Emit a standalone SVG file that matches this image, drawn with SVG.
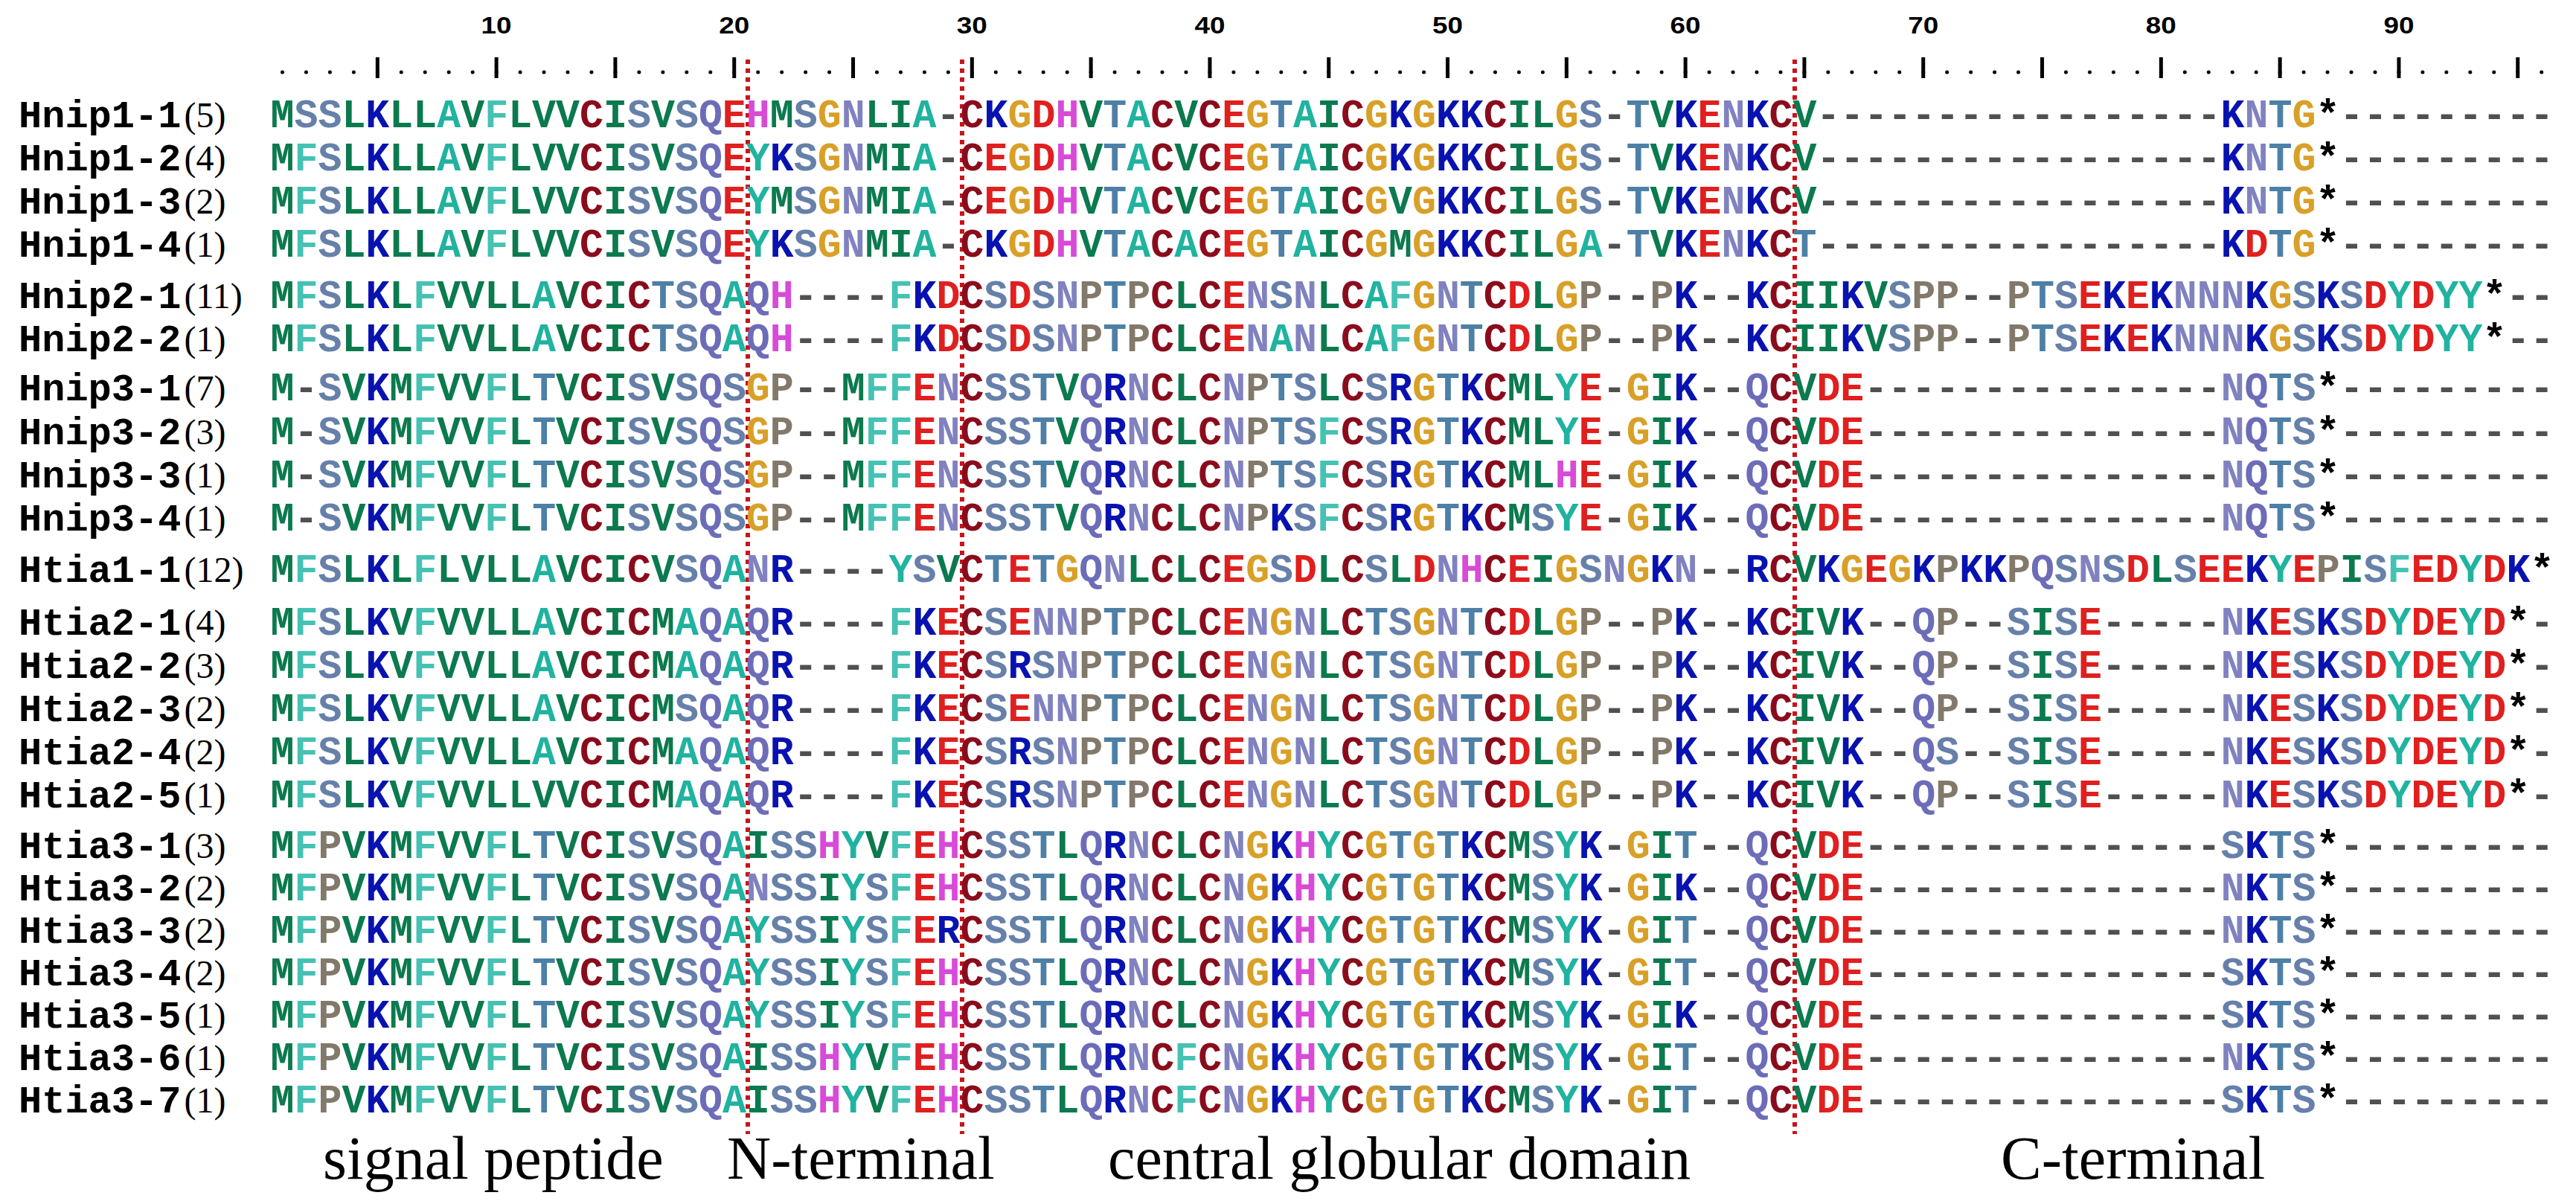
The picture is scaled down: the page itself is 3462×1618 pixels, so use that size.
<svg xmlns="http://www.w3.org/2000/svg" width="3462" height="1618" viewBox="0 0 3462 1618">
<style>
.seq{font-family:"Liberation Mono","Courier New",monospace;font-weight:bold;font-size:53.26px}
.lab{font-family:"Liberation Mono","Courier New",monospace;font-weight:bold;font-size:52px;fill:#000}
.cnt{font-family:"Liberation Serif","Times New Roman",serif;font-weight:normal;font-size:48px}
.num{font-family:"Liberation Sans",Arial,sans-serif;font-weight:bold;font-size:31px;fill:#000;text-anchor:middle}
.reg{font-family:"Liberation Serif","Times New Roman",serif;font-size:82px;fill:#000}
.bound{stroke:#c8141a;stroke-width:6;stroke-dasharray:6 6;fill:none}
.g{fill:#0b7a4e}.a{fill:#1fb3a0}.f{fill:#45c2b4}.b{fill:#0812b0}.c{fill:#8a0c1c}.r{fill:#e01f1f}.o{fill:#d9a028}.h{fill:#d84ad8}.s{fill:#6680aa}.t{fill:#4d80a6}.n{fill:#8082c0}.q{fill:#6c6cb8}.p{fill:#82796b}.d{fill:#505050}.k{fill:#000}
</style>
<rect width="3462" height="1618" fill="#fff"/>
<g id="ruler">
<line x1="379.5" y1="97" x2="3416" y2="97" stroke="#000" stroke-width="5" stroke-linecap="round" stroke-dasharray="0 31.96"/>
<path d="M507.34 77v28M667.14 77v28M826.94 77v28M986.74 77v28M1146.54 77v28M1306.34 77v28M1466.14 77v28M1625.94 77v28M1785.74 77v28M1945.54 77v28M2105.34 77v28M2265.14 77v28M2424.94 77v28M2584.74 77v28M2744.54 77v28M2904.34 77v28M3064.14 77v28M3223.94 77v28M3383.74 77v28" stroke="#000" stroke-width="5" fill="none"/>
<text class="num" x="667.14" y="45" textLength="41" lengthAdjust="spacingAndGlyphs">10</text>
<text class="num" x="986.74" y="45" textLength="41" lengthAdjust="spacingAndGlyphs">20</text>
<text class="num" x="1306.34" y="45" textLength="41" lengthAdjust="spacingAndGlyphs">30</text>
<text class="num" x="1625.94" y="45" textLength="41" lengthAdjust="spacingAndGlyphs">40</text>
<text class="num" x="1945.54" y="45" textLength="41" lengthAdjust="spacingAndGlyphs">50</text>
<text class="num" x="2265.14" y="45" textLength="41" lengthAdjust="spacingAndGlyphs">60</text>
<text class="num" x="2584.74" y="45" textLength="41" lengthAdjust="spacingAndGlyphs">70</text>
<text class="num" x="2904.34" y="45" textLength="41" lengthAdjust="spacingAndGlyphs">80</text>
<text class="num" x="3223.94" y="45" textLength="41" lengthAdjust="spacingAndGlyphs">90</text>
</g>
<g id="boundaries">
<line class="bound" x1="1005" y1="80" x2="1005" y2="1524"/>
<line class="bound" x1="1293" y1="80" x2="1293" y2="1524"/>
<line class="bound" x1="2412" y1="80" x2="2412" y2="1524"/>
</g>
<g id="Hnip1-1"><text class="lab" x="25" y="171">Hnip1-1<tspan class="cnt" dx="4">(5)</tspan></text>
<text class="seq" x="363.5" y="171"><tspan class="g">M</tspan><tspan class="s">SS</tspan><tspan class="g">L</tspan><tspan class="b">K</tspan><tspan class="g">LL</tspan><tspan class="a">A</tspan><tspan class="g">V</tspan><tspan class="f">F</tspan><tspan class="g">LVV</tspan><tspan class="c">C</tspan><tspan class="g">I</tspan><tspan class="s">S</tspan><tspan class="g">V</tspan><tspan class="s">S</tspan><tspan class="q">Q</tspan><tspan class="r">E</tspan><tspan class="h">H</tspan><tspan class="g">M</tspan><tspan class="s">S</tspan><tspan class="o">G</tspan><tspan class="n">N</tspan><tspan class="g">LI</tspan><tspan class="a">A</tspan><tspan class="d">-</tspan><tspan class="c">C</tspan><tspan class="b">K</tspan><tspan class="o">G</tspan><tspan class="r">D</tspan><tspan class="h">H</tspan><tspan class="g">V</tspan><tspan class="t">T</tspan><tspan class="a">A</tspan><tspan class="c">C</tspan><tspan class="g">V</tspan><tspan class="c">C</tspan><tspan class="r">E</tspan><tspan class="o">G</tspan><tspan class="t">T</tspan><tspan class="a">A</tspan><tspan class="g">I</tspan><tspan class="c">C</tspan><tspan class="o">G</tspan><tspan class="b">K</tspan><tspan class="o">G</tspan><tspan class="b">KK</tspan><tspan class="c">C</tspan><tspan class="g">IL</tspan><tspan class="o">G</tspan><tspan class="s">S</tspan><tspan class="d">-</tspan><tspan class="t">T</tspan><tspan class="g">V</tspan><tspan class="b">K</tspan><tspan class="r">E</tspan><tspan class="n">N</tspan><tspan class="b">K</tspan><tspan class="c">C</tspan><tspan class="g">V</tspan><tspan class="d">-----------------</tspan><tspan class="b">K</tspan><tspan class="n">N</tspan><tspan class="t">T</tspan><tspan class="o">G</tspan><tspan class="k">*</tspan><tspan class="d">---------</tspan></text></g>
<g id="Hnip1-2"><text class="lab" x="25" y="229">Hnip1-2<tspan class="cnt" dx="4">(4)</tspan></text>
<text class="seq" x="363.5" y="229"><tspan class="g">M</tspan><tspan class="f">F</tspan><tspan class="s">S</tspan><tspan class="g">L</tspan><tspan class="b">K</tspan><tspan class="g">LL</tspan><tspan class="a">A</tspan><tspan class="g">V</tspan><tspan class="f">F</tspan><tspan class="g">LVV</tspan><tspan class="c">C</tspan><tspan class="g">I</tspan><tspan class="s">S</tspan><tspan class="g">V</tspan><tspan class="s">S</tspan><tspan class="q">Q</tspan><tspan class="r">E</tspan><tspan class="a">Y</tspan><tspan class="b">K</tspan><tspan class="s">S</tspan><tspan class="o">G</tspan><tspan class="n">N</tspan><tspan class="g">MI</tspan><tspan class="a">A</tspan><tspan class="d">-</tspan><tspan class="c">C</tspan><tspan class="r">E</tspan><tspan class="o">G</tspan><tspan class="r">D</tspan><tspan class="h">H</tspan><tspan class="g">V</tspan><tspan class="t">T</tspan><tspan class="a">A</tspan><tspan class="c">C</tspan><tspan class="g">V</tspan><tspan class="c">C</tspan><tspan class="r">E</tspan><tspan class="o">G</tspan><tspan class="t">T</tspan><tspan class="a">A</tspan><tspan class="g">I</tspan><tspan class="c">C</tspan><tspan class="o">G</tspan><tspan class="b">K</tspan><tspan class="o">G</tspan><tspan class="b">KK</tspan><tspan class="c">C</tspan><tspan class="g">IL</tspan><tspan class="o">G</tspan><tspan class="s">S</tspan><tspan class="d">-</tspan><tspan class="t">T</tspan><tspan class="g">V</tspan><tspan class="b">K</tspan><tspan class="r">E</tspan><tspan class="n">N</tspan><tspan class="b">K</tspan><tspan class="c">C</tspan><tspan class="g">V</tspan><tspan class="d">-----------------</tspan><tspan class="b">K</tspan><tspan class="n">N</tspan><tspan class="t">T</tspan><tspan class="o">G</tspan><tspan class="k">*</tspan><tspan class="d">---------</tspan></text></g>
<g id="Hnip1-3"><text class="lab" x="25" y="287">Hnip1-3<tspan class="cnt" dx="4">(2)</tspan></text>
<text class="seq" x="363.5" y="287"><tspan class="g">M</tspan><tspan class="f">F</tspan><tspan class="s">S</tspan><tspan class="g">L</tspan><tspan class="b">K</tspan><tspan class="g">LL</tspan><tspan class="a">A</tspan><tspan class="g">V</tspan><tspan class="f">F</tspan><tspan class="g">LVV</tspan><tspan class="c">C</tspan><tspan class="g">I</tspan><tspan class="s">S</tspan><tspan class="g">V</tspan><tspan class="s">S</tspan><tspan class="q">Q</tspan><tspan class="r">E</tspan><tspan class="a">Y</tspan><tspan class="g">M</tspan><tspan class="s">S</tspan><tspan class="o">G</tspan><tspan class="n">N</tspan><tspan class="g">MI</tspan><tspan class="a">A</tspan><tspan class="d">-</tspan><tspan class="c">C</tspan><tspan class="r">E</tspan><tspan class="o">G</tspan><tspan class="r">D</tspan><tspan class="h">H</tspan><tspan class="g">V</tspan><tspan class="t">T</tspan><tspan class="a">A</tspan><tspan class="c">C</tspan><tspan class="g">V</tspan><tspan class="c">C</tspan><tspan class="r">E</tspan><tspan class="o">G</tspan><tspan class="t">T</tspan><tspan class="a">A</tspan><tspan class="g">I</tspan><tspan class="c">C</tspan><tspan class="o">G</tspan><tspan class="g">V</tspan><tspan class="o">G</tspan><tspan class="b">KK</tspan><tspan class="c">C</tspan><tspan class="g">IL</tspan><tspan class="o">G</tspan><tspan class="s">S</tspan><tspan class="d">-</tspan><tspan class="t">T</tspan><tspan class="g">V</tspan><tspan class="b">K</tspan><tspan class="r">E</tspan><tspan class="n">N</tspan><tspan class="b">K</tspan><tspan class="c">C</tspan><tspan class="g">V</tspan><tspan class="d">-----------------</tspan><tspan class="b">K</tspan><tspan class="n">N</tspan><tspan class="t">T</tspan><tspan class="o">G</tspan><tspan class="k">*</tspan><tspan class="d">---------</tspan></text></g>
<g id="Hnip1-4"><text class="lab" x="25" y="345">Hnip1-4<tspan class="cnt" dx="4">(1)</tspan></text>
<text class="seq" x="363.5" y="345"><tspan class="g">M</tspan><tspan class="f">F</tspan><tspan class="s">S</tspan><tspan class="g">L</tspan><tspan class="b">K</tspan><tspan class="g">LL</tspan><tspan class="a">A</tspan><tspan class="g">V</tspan><tspan class="f">F</tspan><tspan class="g">LVV</tspan><tspan class="c">C</tspan><tspan class="g">I</tspan><tspan class="s">S</tspan><tspan class="g">V</tspan><tspan class="s">S</tspan><tspan class="q">Q</tspan><tspan class="r">E</tspan><tspan class="a">Y</tspan><tspan class="b">K</tspan><tspan class="s">S</tspan><tspan class="o">G</tspan><tspan class="n">N</tspan><tspan class="g">MI</tspan><tspan class="a">A</tspan><tspan class="d">-</tspan><tspan class="c">C</tspan><tspan class="b">K</tspan><tspan class="o">G</tspan><tspan class="r">D</tspan><tspan class="h">H</tspan><tspan class="g">V</tspan><tspan class="t">T</tspan><tspan class="a">A</tspan><tspan class="c">C</tspan><tspan class="a">A</tspan><tspan class="c">C</tspan><tspan class="r">E</tspan><tspan class="o">G</tspan><tspan class="t">T</tspan><tspan class="a">A</tspan><tspan class="g">I</tspan><tspan class="c">C</tspan><tspan class="o">G</tspan><tspan class="g">M</tspan><tspan class="o">G</tspan><tspan class="b">KK</tspan><tspan class="c">C</tspan><tspan class="g">IL</tspan><tspan class="o">G</tspan><tspan class="a">A</tspan><tspan class="d">-</tspan><tspan class="t">T</tspan><tspan class="g">V</tspan><tspan class="b">K</tspan><tspan class="r">E</tspan><tspan class="n">N</tspan><tspan class="b">K</tspan><tspan class="c">C</tspan><tspan class="t">T</tspan><tspan class="d">-----------------</tspan><tspan class="b">K</tspan><tspan class="r">D</tspan><tspan class="t">T</tspan><tspan class="o">G</tspan><tspan class="k">*</tspan><tspan class="d">---------</tspan></text></g>
<g id="Hnip2-1"><text class="lab" x="25" y="414">Hnip2-1<tspan class="cnt" dx="4">(11)</tspan></text>
<text class="seq" x="363.5" y="414"><tspan class="g">M</tspan><tspan class="f">F</tspan><tspan class="s">S</tspan><tspan class="g">L</tspan><tspan class="b">K</tspan><tspan class="g">L</tspan><tspan class="f">F</tspan><tspan class="g">VVLL</tspan><tspan class="a">A</tspan><tspan class="g">V</tspan><tspan class="c">C</tspan><tspan class="g">I</tspan><tspan class="c">C</tspan><tspan class="t">T</tspan><tspan class="s">S</tspan><tspan class="q">Q</tspan><tspan class="a">A</tspan><tspan class="q">Q</tspan><tspan class="h">H</tspan><tspan class="d">----</tspan><tspan class="f">F</tspan><tspan class="b">K</tspan><tspan class="r">D</tspan><tspan class="c">C</tspan><tspan class="s">S</tspan><tspan class="r">D</tspan><tspan class="s">S</tspan><tspan class="n">N</tspan><tspan class="p">P</tspan><tspan class="t">T</tspan><tspan class="p">P</tspan><tspan class="c">C</tspan><tspan class="g">L</tspan><tspan class="c">C</tspan><tspan class="r">E</tspan><tspan class="n">N</tspan><tspan class="s">S</tspan><tspan class="n">N</tspan><tspan class="g">L</tspan><tspan class="c">C</tspan><tspan class="a">A</tspan><tspan class="f">F</tspan><tspan class="o">G</tspan><tspan class="n">N</tspan><tspan class="t">T</tspan><tspan class="c">C</tspan><tspan class="r">D</tspan><tspan class="g">L</tspan><tspan class="o">G</tspan><tspan class="p">P</tspan><tspan class="d">--</tspan><tspan class="p">P</tspan><tspan class="b">K</tspan><tspan class="d">--</tspan><tspan class="b">K</tspan><tspan class="c">C</tspan><tspan class="g">II</tspan><tspan class="b">K</tspan><tspan class="g">V</tspan><tspan class="s">S</tspan><tspan class="p">PP</tspan><tspan class="d">--</tspan><tspan class="p">P</tspan><tspan class="t">T</tspan><tspan class="s">S</tspan><tspan class="r">E</tspan><tspan class="b">K</tspan><tspan class="r">E</tspan><tspan class="b">K</tspan><tspan class="n">NNN</tspan><tspan class="b">K</tspan><tspan class="o">G</tspan><tspan class="s">S</tspan><tspan class="b">K</tspan><tspan class="s">S</tspan><tspan class="r">D</tspan><tspan class="a">Y</tspan><tspan class="r">D</tspan><tspan class="a">YY</tspan><tspan class="k">*</tspan><tspan class="d">--</tspan></text></g>
<g id="Hnip2-2"><text class="lab" x="25" y="472">Hnip2-2<tspan class="cnt" dx="4">(1)</tspan></text>
<text class="seq" x="363.5" y="472"><tspan class="g">M</tspan><tspan class="f">F</tspan><tspan class="s">S</tspan><tspan class="g">L</tspan><tspan class="b">K</tspan><tspan class="g">L</tspan><tspan class="f">F</tspan><tspan class="g">VVLL</tspan><tspan class="a">A</tspan><tspan class="g">V</tspan><tspan class="c">C</tspan><tspan class="g">I</tspan><tspan class="c">C</tspan><tspan class="t">T</tspan><tspan class="s">S</tspan><tspan class="q">Q</tspan><tspan class="a">A</tspan><tspan class="q">Q</tspan><tspan class="h">H</tspan><tspan class="d">----</tspan><tspan class="f">F</tspan><tspan class="b">K</tspan><tspan class="r">D</tspan><tspan class="c">C</tspan><tspan class="s">S</tspan><tspan class="r">D</tspan><tspan class="s">S</tspan><tspan class="n">N</tspan><tspan class="p">P</tspan><tspan class="t">T</tspan><tspan class="p">P</tspan><tspan class="c">C</tspan><tspan class="g">L</tspan><tspan class="c">C</tspan><tspan class="r">E</tspan><tspan class="n">N</tspan><tspan class="a">A</tspan><tspan class="n">N</tspan><tspan class="g">L</tspan><tspan class="c">C</tspan><tspan class="a">A</tspan><tspan class="f">F</tspan><tspan class="o">G</tspan><tspan class="n">N</tspan><tspan class="t">T</tspan><tspan class="c">C</tspan><tspan class="r">D</tspan><tspan class="g">L</tspan><tspan class="o">G</tspan><tspan class="p">P</tspan><tspan class="d">--</tspan><tspan class="p">P</tspan><tspan class="b">K</tspan><tspan class="d">--</tspan><tspan class="b">K</tspan><tspan class="c">C</tspan><tspan class="g">II</tspan><tspan class="b">K</tspan><tspan class="g">V</tspan><tspan class="s">S</tspan><tspan class="p">PP</tspan><tspan class="d">--</tspan><tspan class="p">P</tspan><tspan class="t">T</tspan><tspan class="s">S</tspan><tspan class="r">E</tspan><tspan class="b">K</tspan><tspan class="r">E</tspan><tspan class="b">K</tspan><tspan class="n">NNN</tspan><tspan class="b">K</tspan><tspan class="o">G</tspan><tspan class="s">S</tspan><tspan class="b">K</tspan><tspan class="s">S</tspan><tspan class="r">D</tspan><tspan class="a">Y</tspan><tspan class="r">D</tspan><tspan class="a">YY</tspan><tspan class="k">*</tspan><tspan class="d">--</tspan></text></g>
<g id="Hnip3-1"><text class="lab" x="25" y="538">Hnip3-1<tspan class="cnt" dx="4">(7)</tspan></text>
<text class="seq" x="363.5" y="538"><tspan class="g">M</tspan><tspan class="d">-</tspan><tspan class="s">S</tspan><tspan class="g">V</tspan><tspan class="b">K</tspan><tspan class="g">M</tspan><tspan class="f">F</tspan><tspan class="g">VV</tspan><tspan class="f">F</tspan><tspan class="g">L</tspan><tspan class="t">T</tspan><tspan class="g">V</tspan><tspan class="c">C</tspan><tspan class="g">I</tspan><tspan class="s">S</tspan><tspan class="g">V</tspan><tspan class="s">S</tspan><tspan class="q">Q</tspan><tspan class="s">S</tspan><tspan class="o">G</tspan><tspan class="p">P</tspan><tspan class="d">--</tspan><tspan class="g">M</tspan><tspan class="f">FF</tspan><tspan class="r">E</tspan><tspan class="n">N</tspan><tspan class="c">C</tspan><tspan class="s">SS</tspan><tspan class="t">T</tspan><tspan class="g">V</tspan><tspan class="q">Q</tspan><tspan class="b">R</tspan><tspan class="n">N</tspan><tspan class="c">C</tspan><tspan class="g">L</tspan><tspan class="c">C</tspan><tspan class="n">N</tspan><tspan class="p">P</tspan><tspan class="t">T</tspan><tspan class="s">S</tspan><tspan class="g">L</tspan><tspan class="c">C</tspan><tspan class="s">S</tspan><tspan class="b">R</tspan><tspan class="o">G</tspan><tspan class="t">T</tspan><tspan class="b">K</tspan><tspan class="c">C</tspan><tspan class="g">ML</tspan><tspan class="a">Y</tspan><tspan class="r">E</tspan><tspan class="d">-</tspan><tspan class="o">G</tspan><tspan class="g">I</tspan><tspan class="b">K</tspan><tspan class="d">--</tspan><tspan class="q">Q</tspan><tspan class="c">C</tspan><tspan class="g">V</tspan><tspan class="r">DE</tspan><tspan class="d">---------------</tspan><tspan class="n">N</tspan><tspan class="q">Q</tspan><tspan class="t">T</tspan><tspan class="s">S</tspan><tspan class="k">*</tspan><tspan class="d">---------</tspan></text></g>
<g id="Hnip3-2"><text class="lab" x="25" y="597">Hnip3-2<tspan class="cnt" dx="4">(3)</tspan></text>
<text class="seq" x="363.5" y="597"><tspan class="g">M</tspan><tspan class="d">-</tspan><tspan class="s">S</tspan><tspan class="g">V</tspan><tspan class="b">K</tspan><tspan class="g">M</tspan><tspan class="f">F</tspan><tspan class="g">VV</tspan><tspan class="f">F</tspan><tspan class="g">L</tspan><tspan class="t">T</tspan><tspan class="g">V</tspan><tspan class="c">C</tspan><tspan class="g">I</tspan><tspan class="s">S</tspan><tspan class="g">V</tspan><tspan class="s">S</tspan><tspan class="q">Q</tspan><tspan class="s">S</tspan><tspan class="o">G</tspan><tspan class="p">P</tspan><tspan class="d">--</tspan><tspan class="g">M</tspan><tspan class="f">FF</tspan><tspan class="r">E</tspan><tspan class="n">N</tspan><tspan class="c">C</tspan><tspan class="s">SS</tspan><tspan class="t">T</tspan><tspan class="g">V</tspan><tspan class="q">Q</tspan><tspan class="b">R</tspan><tspan class="n">N</tspan><tspan class="c">C</tspan><tspan class="g">L</tspan><tspan class="c">C</tspan><tspan class="n">N</tspan><tspan class="p">P</tspan><tspan class="t">T</tspan><tspan class="s">S</tspan><tspan class="f">F</tspan><tspan class="c">C</tspan><tspan class="s">S</tspan><tspan class="b">R</tspan><tspan class="o">G</tspan><tspan class="t">T</tspan><tspan class="b">K</tspan><tspan class="c">C</tspan><tspan class="g">ML</tspan><tspan class="a">Y</tspan><tspan class="r">E</tspan><tspan class="d">-</tspan><tspan class="o">G</tspan><tspan class="g">I</tspan><tspan class="b">K</tspan><tspan class="d">--</tspan><tspan class="q">Q</tspan><tspan class="c">C</tspan><tspan class="g">V</tspan><tspan class="r">DE</tspan><tspan class="d">---------------</tspan><tspan class="n">N</tspan><tspan class="q">Q</tspan><tspan class="t">T</tspan><tspan class="s">S</tspan><tspan class="k">*</tspan><tspan class="d">---------</tspan></text></g>
<g id="Hnip3-3"><text class="lab" x="25" y="655">Hnip3-3<tspan class="cnt" dx="4">(1)</tspan></text>
<text class="seq" x="363.5" y="655"><tspan class="g">M</tspan><tspan class="d">-</tspan><tspan class="s">S</tspan><tspan class="g">V</tspan><tspan class="b">K</tspan><tspan class="g">M</tspan><tspan class="f">F</tspan><tspan class="g">VV</tspan><tspan class="f">F</tspan><tspan class="g">L</tspan><tspan class="t">T</tspan><tspan class="g">V</tspan><tspan class="c">C</tspan><tspan class="g">I</tspan><tspan class="s">S</tspan><tspan class="g">V</tspan><tspan class="s">S</tspan><tspan class="q">Q</tspan><tspan class="s">S</tspan><tspan class="o">G</tspan><tspan class="p">P</tspan><tspan class="d">--</tspan><tspan class="g">M</tspan><tspan class="f">FF</tspan><tspan class="r">E</tspan><tspan class="n">N</tspan><tspan class="c">C</tspan><tspan class="s">SS</tspan><tspan class="t">T</tspan><tspan class="g">V</tspan><tspan class="q">Q</tspan><tspan class="b">R</tspan><tspan class="n">N</tspan><tspan class="c">C</tspan><tspan class="g">L</tspan><tspan class="c">C</tspan><tspan class="n">N</tspan><tspan class="p">P</tspan><tspan class="t">T</tspan><tspan class="s">S</tspan><tspan class="f">F</tspan><tspan class="c">C</tspan><tspan class="s">S</tspan><tspan class="b">R</tspan><tspan class="o">G</tspan><tspan class="t">T</tspan><tspan class="b">K</tspan><tspan class="c">C</tspan><tspan class="g">ML</tspan><tspan class="h">H</tspan><tspan class="r">E</tspan><tspan class="d">-</tspan><tspan class="o">G</tspan><tspan class="g">I</tspan><tspan class="b">K</tspan><tspan class="d">--</tspan><tspan class="q">Q</tspan><tspan class="c">C</tspan><tspan class="g">V</tspan><tspan class="r">DE</tspan><tspan class="d">---------------</tspan><tspan class="n">N</tspan><tspan class="q">Q</tspan><tspan class="t">T</tspan><tspan class="s">S</tspan><tspan class="k">*</tspan><tspan class="d">---------</tspan></text></g>
<g id="Hnip3-4"><text class="lab" x="25" y="713">Hnip3-4<tspan class="cnt" dx="4">(1)</tspan></text>
<text class="seq" x="363.5" y="713"><tspan class="g">M</tspan><tspan class="d">-</tspan><tspan class="s">S</tspan><tspan class="g">V</tspan><tspan class="b">K</tspan><tspan class="g">M</tspan><tspan class="f">F</tspan><tspan class="g">VV</tspan><tspan class="f">F</tspan><tspan class="g">L</tspan><tspan class="t">T</tspan><tspan class="g">V</tspan><tspan class="c">C</tspan><tspan class="g">I</tspan><tspan class="s">S</tspan><tspan class="g">V</tspan><tspan class="s">S</tspan><tspan class="q">Q</tspan><tspan class="s">S</tspan><tspan class="o">G</tspan><tspan class="p">P</tspan><tspan class="d">--</tspan><tspan class="g">M</tspan><tspan class="f">FF</tspan><tspan class="r">E</tspan><tspan class="n">N</tspan><tspan class="c">C</tspan><tspan class="s">SS</tspan><tspan class="t">T</tspan><tspan class="g">V</tspan><tspan class="q">Q</tspan><tspan class="b">R</tspan><tspan class="n">N</tspan><tspan class="c">C</tspan><tspan class="g">L</tspan><tspan class="c">C</tspan><tspan class="n">N</tspan><tspan class="p">P</tspan><tspan class="b">K</tspan><tspan class="s">S</tspan><tspan class="f">F</tspan><tspan class="c">C</tspan><tspan class="s">S</tspan><tspan class="b">R</tspan><tspan class="o">G</tspan><tspan class="t">T</tspan><tspan class="b">K</tspan><tspan class="c">C</tspan><tspan class="g">M</tspan><tspan class="s">S</tspan><tspan class="a">Y</tspan><tspan class="r">E</tspan><tspan class="d">-</tspan><tspan class="o">G</tspan><tspan class="g">I</tspan><tspan class="b">K</tspan><tspan class="d">--</tspan><tspan class="q">Q</tspan><tspan class="c">C</tspan><tspan class="g">V</tspan><tspan class="r">DE</tspan><tspan class="d">---------------</tspan><tspan class="n">N</tspan><tspan class="q">Q</tspan><tspan class="t">T</tspan><tspan class="s">S</tspan><tspan class="k">*</tspan><tspan class="d">---------</tspan></text></g>
<g id="Htia1-1"><text class="lab" x="25" y="782">Htia1-1<tspan class="cnt" dx="4">(12)</tspan></text>
<text class="seq" x="363.5" y="782"><tspan class="g">M</tspan><tspan class="f">F</tspan><tspan class="s">S</tspan><tspan class="g">L</tspan><tspan class="b">K</tspan><tspan class="g">L</tspan><tspan class="f">F</tspan><tspan class="g">LVLL</tspan><tspan class="a">A</tspan><tspan class="g">V</tspan><tspan class="c">C</tspan><tspan class="g">I</tspan><tspan class="c">C</tspan><tspan class="g">V</tspan><tspan class="s">S</tspan><tspan class="q">Q</tspan><tspan class="a">A</tspan><tspan class="n">N</tspan><tspan class="b">R</tspan><tspan class="d">----</tspan><tspan class="a">Y</tspan><tspan class="s">S</tspan><tspan class="g">V</tspan><tspan class="c">C</tspan><tspan class="t">T</tspan><tspan class="r">E</tspan><tspan class="t">T</tspan><tspan class="o">G</tspan><tspan class="q">Q</tspan><tspan class="n">N</tspan><tspan class="g">L</tspan><tspan class="c">C</tspan><tspan class="g">L</tspan><tspan class="c">C</tspan><tspan class="r">E</tspan><tspan class="o">G</tspan><tspan class="s">S</tspan><tspan class="r">D</tspan><tspan class="g">L</tspan><tspan class="c">C</tspan><tspan class="s">S</tspan><tspan class="g">L</tspan><tspan class="r">D</tspan><tspan class="n">N</tspan><tspan class="h">H</tspan><tspan class="c">C</tspan><tspan class="r">E</tspan><tspan class="g">I</tspan><tspan class="o">G</tspan><tspan class="s">S</tspan><tspan class="n">N</tspan><tspan class="o">G</tspan><tspan class="b">K</tspan><tspan class="n">N</tspan><tspan class="d">--</tspan><tspan class="b">R</tspan><tspan class="c">C</tspan><tspan class="g">V</tspan><tspan class="b">K</tspan><tspan class="o">G</tspan><tspan class="r">E</tspan><tspan class="o">G</tspan><tspan class="b">K</tspan><tspan class="p">P</tspan><tspan class="b">KK</tspan><tspan class="p">P</tspan><tspan class="q">Q</tspan><tspan class="s">S</tspan><tspan class="n">N</tspan><tspan class="s">S</tspan><tspan class="r">D</tspan><tspan class="g">L</tspan><tspan class="s">S</tspan><tspan class="r">EE</tspan><tspan class="b">K</tspan><tspan class="a">Y</tspan><tspan class="r">E</tspan><tspan class="p">P</tspan><tspan class="g">I</tspan><tspan class="s">S</tspan><tspan class="f">F</tspan><tspan class="r">ED</tspan><tspan class="a">Y</tspan><tspan class="r">D</tspan><tspan class="b">K</tspan><tspan class="k">*</tspan></text></g>
<g id="Htia2-1"><text class="lab" x="25" y="853">Htia2-1<tspan class="cnt" dx="4">(4)</tspan></text>
<text class="seq" x="363.5" y="853"><tspan class="g">M</tspan><tspan class="f">F</tspan><tspan class="s">S</tspan><tspan class="g">L</tspan><tspan class="b">K</tspan><tspan class="g">V</tspan><tspan class="f">F</tspan><tspan class="g">VVLL</tspan><tspan class="a">A</tspan><tspan class="g">V</tspan><tspan class="c">C</tspan><tspan class="g">I</tspan><tspan class="c">C</tspan><tspan class="g">M</tspan><tspan class="a">A</tspan><tspan class="q">Q</tspan><tspan class="a">A</tspan><tspan class="q">Q</tspan><tspan class="b">R</tspan><tspan class="d">----</tspan><tspan class="f">F</tspan><tspan class="b">K</tspan><tspan class="r">E</tspan><tspan class="c">C</tspan><tspan class="s">S</tspan><tspan class="r">E</tspan><tspan class="n">NN</tspan><tspan class="p">P</tspan><tspan class="t">T</tspan><tspan class="p">P</tspan><tspan class="c">C</tspan><tspan class="g">L</tspan><tspan class="c">C</tspan><tspan class="r">E</tspan><tspan class="n">N</tspan><tspan class="o">G</tspan><tspan class="n">N</tspan><tspan class="g">L</tspan><tspan class="c">C</tspan><tspan class="t">T</tspan><tspan class="s">S</tspan><tspan class="o">G</tspan><tspan class="n">N</tspan><tspan class="t">T</tspan><tspan class="c">C</tspan><tspan class="r">D</tspan><tspan class="g">L</tspan><tspan class="o">G</tspan><tspan class="p">P</tspan><tspan class="d">--</tspan><tspan class="p">P</tspan><tspan class="b">K</tspan><tspan class="d">--</tspan><tspan class="b">K</tspan><tspan class="c">C</tspan><tspan class="g">IV</tspan><tspan class="b">K</tspan><tspan class="d">--</tspan><tspan class="q">Q</tspan><tspan class="p">P</tspan><tspan class="d">--</tspan><tspan class="s">S</tspan><tspan class="g">I</tspan><tspan class="s">S</tspan><tspan class="r">E</tspan><tspan class="d">-----</tspan><tspan class="n">N</tspan><tspan class="b">K</tspan><tspan class="r">E</tspan><tspan class="s">S</tspan><tspan class="b">K</tspan><tspan class="s">S</tspan><tspan class="r">D</tspan><tspan class="a">Y</tspan><tspan class="r">DE</tspan><tspan class="a">Y</tspan><tspan class="r">D</tspan><tspan class="k">*</tspan><tspan class="d">-</tspan></text></g>
<g id="Htia2-2"><text class="lab" x="25" y="911">Htia2-2<tspan class="cnt" dx="4">(3)</tspan></text>
<text class="seq" x="363.5" y="911"><tspan class="g">M</tspan><tspan class="f">F</tspan><tspan class="s">S</tspan><tspan class="g">L</tspan><tspan class="b">K</tspan><tspan class="g">V</tspan><tspan class="f">F</tspan><tspan class="g">VVLL</tspan><tspan class="a">A</tspan><tspan class="g">V</tspan><tspan class="c">C</tspan><tspan class="g">I</tspan><tspan class="c">C</tspan><tspan class="g">M</tspan><tspan class="a">A</tspan><tspan class="q">Q</tspan><tspan class="a">A</tspan><tspan class="q">Q</tspan><tspan class="b">R</tspan><tspan class="d">----</tspan><tspan class="f">F</tspan><tspan class="b">K</tspan><tspan class="r">E</tspan><tspan class="c">C</tspan><tspan class="s">S</tspan><tspan class="b">R</tspan><tspan class="s">S</tspan><tspan class="n">N</tspan><tspan class="p">P</tspan><tspan class="t">T</tspan><tspan class="p">P</tspan><tspan class="c">C</tspan><tspan class="g">L</tspan><tspan class="c">C</tspan><tspan class="r">E</tspan><tspan class="n">N</tspan><tspan class="o">G</tspan><tspan class="n">N</tspan><tspan class="g">L</tspan><tspan class="c">C</tspan><tspan class="t">T</tspan><tspan class="s">S</tspan><tspan class="o">G</tspan><tspan class="n">N</tspan><tspan class="t">T</tspan><tspan class="c">C</tspan><tspan class="r">D</tspan><tspan class="g">L</tspan><tspan class="o">G</tspan><tspan class="p">P</tspan><tspan class="d">--</tspan><tspan class="p">P</tspan><tspan class="b">K</tspan><tspan class="d">--</tspan><tspan class="b">K</tspan><tspan class="c">C</tspan><tspan class="g">IV</tspan><tspan class="b">K</tspan><tspan class="d">--</tspan><tspan class="q">Q</tspan><tspan class="p">P</tspan><tspan class="d">--</tspan><tspan class="s">S</tspan><tspan class="g">I</tspan><tspan class="s">S</tspan><tspan class="r">E</tspan><tspan class="d">-----</tspan><tspan class="n">N</tspan><tspan class="b">K</tspan><tspan class="r">E</tspan><tspan class="s">S</tspan><tspan class="b">K</tspan><tspan class="s">S</tspan><tspan class="r">D</tspan><tspan class="a">Y</tspan><tspan class="r">DE</tspan><tspan class="a">Y</tspan><tspan class="r">D</tspan><tspan class="k">*</tspan><tspan class="d">-</tspan></text></g>
<g id="Htia2-3"><text class="lab" x="25" y="969">Htia2-3<tspan class="cnt" dx="4">(2)</tspan></text>
<text class="seq" x="363.5" y="969"><tspan class="g">M</tspan><tspan class="f">F</tspan><tspan class="s">S</tspan><tspan class="g">L</tspan><tspan class="b">K</tspan><tspan class="g">V</tspan><tspan class="f">F</tspan><tspan class="g">VVLL</tspan><tspan class="a">A</tspan><tspan class="g">V</tspan><tspan class="c">C</tspan><tspan class="g">I</tspan><tspan class="c">C</tspan><tspan class="g">M</tspan><tspan class="s">S</tspan><tspan class="q">Q</tspan><tspan class="a">A</tspan><tspan class="q">Q</tspan><tspan class="b">R</tspan><tspan class="d">----</tspan><tspan class="f">F</tspan><tspan class="b">K</tspan><tspan class="r">E</tspan><tspan class="c">C</tspan><tspan class="s">S</tspan><tspan class="r">E</tspan><tspan class="n">NN</tspan><tspan class="p">P</tspan><tspan class="t">T</tspan><tspan class="p">P</tspan><tspan class="c">C</tspan><tspan class="g">L</tspan><tspan class="c">C</tspan><tspan class="r">E</tspan><tspan class="n">N</tspan><tspan class="o">G</tspan><tspan class="n">N</tspan><tspan class="g">L</tspan><tspan class="c">C</tspan><tspan class="t">T</tspan><tspan class="s">S</tspan><tspan class="o">G</tspan><tspan class="n">N</tspan><tspan class="t">T</tspan><tspan class="c">C</tspan><tspan class="r">D</tspan><tspan class="g">L</tspan><tspan class="o">G</tspan><tspan class="p">P</tspan><tspan class="d">--</tspan><tspan class="p">P</tspan><tspan class="b">K</tspan><tspan class="d">--</tspan><tspan class="b">K</tspan><tspan class="c">C</tspan><tspan class="g">IV</tspan><tspan class="b">K</tspan><tspan class="d">--</tspan><tspan class="q">Q</tspan><tspan class="p">P</tspan><tspan class="d">--</tspan><tspan class="s">S</tspan><tspan class="g">I</tspan><tspan class="s">S</tspan><tspan class="r">E</tspan><tspan class="d">-----</tspan><tspan class="n">N</tspan><tspan class="b">K</tspan><tspan class="r">E</tspan><tspan class="s">S</tspan><tspan class="b">K</tspan><tspan class="s">S</tspan><tspan class="r">D</tspan><tspan class="a">Y</tspan><tspan class="r">DE</tspan><tspan class="a">Y</tspan><tspan class="r">D</tspan><tspan class="k">*</tspan><tspan class="d">-</tspan></text></g>
<g id="Htia2-4"><text class="lab" x="25" y="1027">Htia2-4<tspan class="cnt" dx="4">(2)</tspan></text>
<text class="seq" x="363.5" y="1027"><tspan class="g">M</tspan><tspan class="f">F</tspan><tspan class="s">S</tspan><tspan class="g">L</tspan><tspan class="b">K</tspan><tspan class="g">V</tspan><tspan class="f">F</tspan><tspan class="g">VVLL</tspan><tspan class="a">A</tspan><tspan class="g">V</tspan><tspan class="c">C</tspan><tspan class="g">I</tspan><tspan class="c">C</tspan><tspan class="g">M</tspan><tspan class="a">A</tspan><tspan class="q">Q</tspan><tspan class="a">A</tspan><tspan class="q">Q</tspan><tspan class="b">R</tspan><tspan class="d">----</tspan><tspan class="f">F</tspan><tspan class="b">K</tspan><tspan class="r">E</tspan><tspan class="c">C</tspan><tspan class="s">S</tspan><tspan class="b">R</tspan><tspan class="s">S</tspan><tspan class="n">N</tspan><tspan class="p">P</tspan><tspan class="t">T</tspan><tspan class="p">P</tspan><tspan class="c">C</tspan><tspan class="g">L</tspan><tspan class="c">C</tspan><tspan class="r">E</tspan><tspan class="n">N</tspan><tspan class="o">G</tspan><tspan class="n">N</tspan><tspan class="g">L</tspan><tspan class="c">C</tspan><tspan class="t">T</tspan><tspan class="s">S</tspan><tspan class="o">G</tspan><tspan class="n">N</tspan><tspan class="t">T</tspan><tspan class="c">C</tspan><tspan class="r">D</tspan><tspan class="g">L</tspan><tspan class="o">G</tspan><tspan class="p">P</tspan><tspan class="d">--</tspan><tspan class="p">P</tspan><tspan class="b">K</tspan><tspan class="d">--</tspan><tspan class="b">K</tspan><tspan class="c">C</tspan><tspan class="g">IV</tspan><tspan class="b">K</tspan><tspan class="d">--</tspan><tspan class="q">Q</tspan><tspan class="s">S</tspan><tspan class="d">--</tspan><tspan class="s">S</tspan><tspan class="g">I</tspan><tspan class="s">S</tspan><tspan class="r">E</tspan><tspan class="d">-----</tspan><tspan class="n">N</tspan><tspan class="b">K</tspan><tspan class="r">E</tspan><tspan class="s">S</tspan><tspan class="b">K</tspan><tspan class="s">S</tspan><tspan class="r">D</tspan><tspan class="a">Y</tspan><tspan class="r">DE</tspan><tspan class="a">Y</tspan><tspan class="r">D</tspan><tspan class="k">*</tspan><tspan class="d">-</tspan></text></g>
<g id="Htia2-5"><text class="lab" x="25" y="1085">Htia2-5<tspan class="cnt" dx="4">(1)</tspan></text>
<text class="seq" x="363.5" y="1085"><tspan class="g">M</tspan><tspan class="f">F</tspan><tspan class="s">S</tspan><tspan class="g">L</tspan><tspan class="b">K</tspan><tspan class="g">V</tspan><tspan class="f">F</tspan><tspan class="g">VVLLVV</tspan><tspan class="c">C</tspan><tspan class="g">I</tspan><tspan class="c">C</tspan><tspan class="g">M</tspan><tspan class="a">A</tspan><tspan class="q">Q</tspan><tspan class="a">A</tspan><tspan class="q">Q</tspan><tspan class="b">R</tspan><tspan class="d">----</tspan><tspan class="f">F</tspan><tspan class="b">K</tspan><tspan class="r">E</tspan><tspan class="c">C</tspan><tspan class="s">S</tspan><tspan class="b">R</tspan><tspan class="s">S</tspan><tspan class="n">N</tspan><tspan class="p">P</tspan><tspan class="t">T</tspan><tspan class="p">P</tspan><tspan class="c">C</tspan><tspan class="g">L</tspan><tspan class="c">C</tspan><tspan class="r">E</tspan><tspan class="n">N</tspan><tspan class="o">G</tspan><tspan class="n">N</tspan><tspan class="g">L</tspan><tspan class="c">C</tspan><tspan class="t">T</tspan><tspan class="s">S</tspan><tspan class="o">G</tspan><tspan class="n">N</tspan><tspan class="t">T</tspan><tspan class="c">C</tspan><tspan class="r">D</tspan><tspan class="g">L</tspan><tspan class="o">G</tspan><tspan class="p">P</tspan><tspan class="d">--</tspan><tspan class="p">P</tspan><tspan class="b">K</tspan><tspan class="d">--</tspan><tspan class="b">K</tspan><tspan class="c">C</tspan><tspan class="g">IV</tspan><tspan class="b">K</tspan><tspan class="d">--</tspan><tspan class="q">Q</tspan><tspan class="p">P</tspan><tspan class="d">--</tspan><tspan class="s">S</tspan><tspan class="g">I</tspan><tspan class="s">S</tspan><tspan class="r">E</tspan><tspan class="d">-----</tspan><tspan class="n">N</tspan><tspan class="b">K</tspan><tspan class="r">E</tspan><tspan class="s">S</tspan><tspan class="b">K</tspan><tspan class="s">S</tspan><tspan class="r">D</tspan><tspan class="a">Y</tspan><tspan class="r">DE</tspan><tspan class="a">Y</tspan><tspan class="r">D</tspan><tspan class="k">*</tspan><tspan class="d">-</tspan></text></g>
<g id="Htia3-1"><text class="lab" x="25" y="1153">Htia3-1<tspan class="cnt" dx="4">(3)</tspan></text>
<text class="seq" x="363.5" y="1153"><tspan class="g">M</tspan><tspan class="f">F</tspan><tspan class="p">P</tspan><tspan class="g">V</tspan><tspan class="b">K</tspan><tspan class="g">M</tspan><tspan class="f">F</tspan><tspan class="g">VV</tspan><tspan class="f">F</tspan><tspan class="g">L</tspan><tspan class="t">T</tspan><tspan class="g">V</tspan><tspan class="c">C</tspan><tspan class="g">I</tspan><tspan class="s">S</tspan><tspan class="g">V</tspan><tspan class="s">S</tspan><tspan class="q">Q</tspan><tspan class="a">A</tspan><tspan class="g">I</tspan><tspan class="s">SS</tspan><tspan class="h">H</tspan><tspan class="a">Y</tspan><tspan class="g">V</tspan><tspan class="f">F</tspan><tspan class="r">E</tspan><tspan class="h">H</tspan><tspan class="c">C</tspan><tspan class="s">SS</tspan><tspan class="t">T</tspan><tspan class="g">L</tspan><tspan class="q">Q</tspan><tspan class="b">R</tspan><tspan class="n">N</tspan><tspan class="c">C</tspan><tspan class="g">L</tspan><tspan class="c">C</tspan><tspan class="n">N</tspan><tspan class="o">G</tspan><tspan class="b">K</tspan><tspan class="h">H</tspan><tspan class="a">Y</tspan><tspan class="c">C</tspan><tspan class="o">G</tspan><tspan class="t">T</tspan><tspan class="o">G</tspan><tspan class="t">T</tspan><tspan class="b">K</tspan><tspan class="c">C</tspan><tspan class="g">M</tspan><tspan class="s">S</tspan><tspan class="a">Y</tspan><tspan class="b">K</tspan><tspan class="d">-</tspan><tspan class="o">G</tspan><tspan class="g">I</tspan><tspan class="t">T</tspan><tspan class="d">--</tspan><tspan class="q">Q</tspan><tspan class="c">C</tspan><tspan class="g">V</tspan><tspan class="r">DE</tspan><tspan class="d">---------------</tspan><tspan class="s">S</tspan><tspan class="b">K</tspan><tspan class="t">T</tspan><tspan class="s">S</tspan><tspan class="k">*</tspan><tspan class="d">---------</tspan></text></g>
<g id="Htia3-2"><text class="lab" x="25" y="1210">Htia3-2<tspan class="cnt" dx="4">(2)</tspan></text>
<text class="seq" x="363.5" y="1210"><tspan class="g">M</tspan><tspan class="f">F</tspan><tspan class="p">P</tspan><tspan class="g">V</tspan><tspan class="b">K</tspan><tspan class="g">M</tspan><tspan class="f">F</tspan><tspan class="g">VV</tspan><tspan class="f">F</tspan><tspan class="g">L</tspan><tspan class="t">T</tspan><tspan class="g">V</tspan><tspan class="c">C</tspan><tspan class="g">I</tspan><tspan class="s">S</tspan><tspan class="g">V</tspan><tspan class="s">S</tspan><tspan class="q">Q</tspan><tspan class="a">A</tspan><tspan class="n">N</tspan><tspan class="s">SS</tspan><tspan class="g">I</tspan><tspan class="a">Y</tspan><tspan class="s">S</tspan><tspan class="f">F</tspan><tspan class="r">E</tspan><tspan class="h">H</tspan><tspan class="c">C</tspan><tspan class="s">SS</tspan><tspan class="t">T</tspan><tspan class="g">L</tspan><tspan class="q">Q</tspan><tspan class="b">R</tspan><tspan class="n">N</tspan><tspan class="c">C</tspan><tspan class="g">L</tspan><tspan class="c">C</tspan><tspan class="n">N</tspan><tspan class="o">G</tspan><tspan class="b">K</tspan><tspan class="h">H</tspan><tspan class="a">Y</tspan><tspan class="c">C</tspan><tspan class="o">G</tspan><tspan class="t">T</tspan><tspan class="o">G</tspan><tspan class="t">T</tspan><tspan class="b">K</tspan><tspan class="c">C</tspan><tspan class="g">M</tspan><tspan class="s">S</tspan><tspan class="a">Y</tspan><tspan class="b">K</tspan><tspan class="d">-</tspan><tspan class="o">G</tspan><tspan class="g">I</tspan><tspan class="b">K</tspan><tspan class="d">--</tspan><tspan class="q">Q</tspan><tspan class="c">C</tspan><tspan class="g">V</tspan><tspan class="r">DE</tspan><tspan class="d">---------------</tspan><tspan class="n">N</tspan><tspan class="b">K</tspan><tspan class="t">T</tspan><tspan class="s">S</tspan><tspan class="k">*</tspan><tspan class="d">---------</tspan></text></g>
<g id="Htia3-3"><text class="lab" x="25" y="1267">Htia3-3<tspan class="cnt" dx="4">(2)</tspan></text>
<text class="seq" x="363.5" y="1267"><tspan class="g">M</tspan><tspan class="f">F</tspan><tspan class="p">P</tspan><tspan class="g">V</tspan><tspan class="b">K</tspan><tspan class="g">M</tspan><tspan class="f">F</tspan><tspan class="g">VV</tspan><tspan class="f">F</tspan><tspan class="g">L</tspan><tspan class="t">T</tspan><tspan class="g">V</tspan><tspan class="c">C</tspan><tspan class="g">I</tspan><tspan class="s">S</tspan><tspan class="g">V</tspan><tspan class="s">S</tspan><tspan class="q">Q</tspan><tspan class="a">A</tspan><tspan class="a">Y</tspan><tspan class="s">SS</tspan><tspan class="g">I</tspan><tspan class="a">Y</tspan><tspan class="s">S</tspan><tspan class="f">F</tspan><tspan class="r">E</tspan><tspan class="b">R</tspan><tspan class="c">C</tspan><tspan class="s">SS</tspan><tspan class="t">T</tspan><tspan class="g">L</tspan><tspan class="q">Q</tspan><tspan class="b">R</tspan><tspan class="n">N</tspan><tspan class="c">C</tspan><tspan class="g">L</tspan><tspan class="c">C</tspan><tspan class="n">N</tspan><tspan class="o">G</tspan><tspan class="b">K</tspan><tspan class="h">H</tspan><tspan class="a">Y</tspan><tspan class="c">C</tspan><tspan class="o">G</tspan><tspan class="t">T</tspan><tspan class="o">G</tspan><tspan class="t">T</tspan><tspan class="b">K</tspan><tspan class="c">C</tspan><tspan class="g">M</tspan><tspan class="s">S</tspan><tspan class="a">Y</tspan><tspan class="b">K</tspan><tspan class="d">-</tspan><tspan class="o">G</tspan><tspan class="g">I</tspan><tspan class="t">T</tspan><tspan class="d">--</tspan><tspan class="q">Q</tspan><tspan class="c">C</tspan><tspan class="g">V</tspan><tspan class="r">DE</tspan><tspan class="d">---------------</tspan><tspan class="n">N</tspan><tspan class="b">K</tspan><tspan class="t">T</tspan><tspan class="s">S</tspan><tspan class="k">*</tspan><tspan class="d">---------</tspan></text></g>
<g id="Htia3-4"><text class="lab" x="25" y="1324">Htia3-4<tspan class="cnt" dx="4">(2)</tspan></text>
<text class="seq" x="363.5" y="1324"><tspan class="g">M</tspan><tspan class="f">F</tspan><tspan class="p">P</tspan><tspan class="g">V</tspan><tspan class="b">K</tspan><tspan class="g">M</tspan><tspan class="f">F</tspan><tspan class="g">VV</tspan><tspan class="f">F</tspan><tspan class="g">L</tspan><tspan class="t">T</tspan><tspan class="g">V</tspan><tspan class="c">C</tspan><tspan class="g">I</tspan><tspan class="s">S</tspan><tspan class="g">V</tspan><tspan class="s">S</tspan><tspan class="q">Q</tspan><tspan class="a">A</tspan><tspan class="a">Y</tspan><tspan class="s">SS</tspan><tspan class="g">I</tspan><tspan class="a">Y</tspan><tspan class="s">S</tspan><tspan class="f">F</tspan><tspan class="r">E</tspan><tspan class="h">H</tspan><tspan class="c">C</tspan><tspan class="s">SS</tspan><tspan class="t">T</tspan><tspan class="g">L</tspan><tspan class="q">Q</tspan><tspan class="b">R</tspan><tspan class="n">N</tspan><tspan class="c">C</tspan><tspan class="g">L</tspan><tspan class="c">C</tspan><tspan class="n">N</tspan><tspan class="o">G</tspan><tspan class="b">K</tspan><tspan class="h">H</tspan><tspan class="a">Y</tspan><tspan class="c">C</tspan><tspan class="o">G</tspan><tspan class="t">T</tspan><tspan class="o">G</tspan><tspan class="t">T</tspan><tspan class="b">K</tspan><tspan class="c">C</tspan><tspan class="g">M</tspan><tspan class="s">S</tspan><tspan class="a">Y</tspan><tspan class="b">K</tspan><tspan class="d">-</tspan><tspan class="o">G</tspan><tspan class="g">I</tspan><tspan class="t">T</tspan><tspan class="d">--</tspan><tspan class="q">Q</tspan><tspan class="c">C</tspan><tspan class="g">V</tspan><tspan class="r">DE</tspan><tspan class="d">---------------</tspan><tspan class="s">S</tspan><tspan class="b">K</tspan><tspan class="t">T</tspan><tspan class="s">S</tspan><tspan class="k">*</tspan><tspan class="d">---------</tspan></text></g>
<g id="Htia3-5"><text class="lab" x="25" y="1381">Htia3-5<tspan class="cnt" dx="4">(1)</tspan></text>
<text class="seq" x="363.5" y="1381"><tspan class="g">M</tspan><tspan class="f">F</tspan><tspan class="p">P</tspan><tspan class="g">V</tspan><tspan class="b">K</tspan><tspan class="g">M</tspan><tspan class="f">F</tspan><tspan class="g">VV</tspan><tspan class="f">F</tspan><tspan class="g">L</tspan><tspan class="t">T</tspan><tspan class="g">V</tspan><tspan class="c">C</tspan><tspan class="g">I</tspan><tspan class="s">S</tspan><tspan class="g">V</tspan><tspan class="s">S</tspan><tspan class="q">Q</tspan><tspan class="a">A</tspan><tspan class="a">Y</tspan><tspan class="s">SS</tspan><tspan class="g">I</tspan><tspan class="a">Y</tspan><tspan class="s">S</tspan><tspan class="f">F</tspan><tspan class="r">E</tspan><tspan class="h">H</tspan><tspan class="c">C</tspan><tspan class="s">SS</tspan><tspan class="t">T</tspan><tspan class="g">L</tspan><tspan class="q">Q</tspan><tspan class="b">R</tspan><tspan class="n">N</tspan><tspan class="c">C</tspan><tspan class="g">L</tspan><tspan class="c">C</tspan><tspan class="n">N</tspan><tspan class="o">G</tspan><tspan class="b">K</tspan><tspan class="h">H</tspan><tspan class="a">Y</tspan><tspan class="c">C</tspan><tspan class="o">G</tspan><tspan class="t">T</tspan><tspan class="o">G</tspan><tspan class="t">T</tspan><tspan class="b">K</tspan><tspan class="c">C</tspan><tspan class="g">M</tspan><tspan class="s">S</tspan><tspan class="a">Y</tspan><tspan class="b">K</tspan><tspan class="d">-</tspan><tspan class="o">G</tspan><tspan class="g">I</tspan><tspan class="b">K</tspan><tspan class="d">--</tspan><tspan class="q">Q</tspan><tspan class="c">C</tspan><tspan class="g">V</tspan><tspan class="r">DE</tspan><tspan class="d">---------------</tspan><tspan class="s">S</tspan><tspan class="b">K</tspan><tspan class="t">T</tspan><tspan class="s">S</tspan><tspan class="k">*</tspan><tspan class="d">---------</tspan></text></g>
<g id="Htia3-6"><text class="lab" x="25" y="1438">Htia3-6<tspan class="cnt" dx="4">(1)</tspan></text>
<text class="seq" x="363.5" y="1438"><tspan class="g">M</tspan><tspan class="f">F</tspan><tspan class="p">P</tspan><tspan class="g">V</tspan><tspan class="b">K</tspan><tspan class="g">M</tspan><tspan class="f">F</tspan><tspan class="g">VV</tspan><tspan class="f">F</tspan><tspan class="g">L</tspan><tspan class="t">T</tspan><tspan class="g">V</tspan><tspan class="c">C</tspan><tspan class="g">I</tspan><tspan class="s">S</tspan><tspan class="g">V</tspan><tspan class="s">S</tspan><tspan class="q">Q</tspan><tspan class="a">A</tspan><tspan class="g">I</tspan><tspan class="s">SS</tspan><tspan class="h">H</tspan><tspan class="a">Y</tspan><tspan class="g">V</tspan><tspan class="f">F</tspan><tspan class="r">E</tspan><tspan class="h">H</tspan><tspan class="c">C</tspan><tspan class="s">SS</tspan><tspan class="t">T</tspan><tspan class="g">L</tspan><tspan class="q">Q</tspan><tspan class="b">R</tspan><tspan class="n">N</tspan><tspan class="c">C</tspan><tspan class="f">F</tspan><tspan class="c">C</tspan><tspan class="n">N</tspan><tspan class="o">G</tspan><tspan class="b">K</tspan><tspan class="h">H</tspan><tspan class="a">Y</tspan><tspan class="c">C</tspan><tspan class="o">G</tspan><tspan class="t">T</tspan><tspan class="o">G</tspan><tspan class="t">T</tspan><tspan class="b">K</tspan><tspan class="c">C</tspan><tspan class="g">M</tspan><tspan class="s">S</tspan><tspan class="a">Y</tspan><tspan class="b">K</tspan><tspan class="d">-</tspan><tspan class="o">G</tspan><tspan class="g">I</tspan><tspan class="t">T</tspan><tspan class="d">--</tspan><tspan class="q">Q</tspan><tspan class="c">C</tspan><tspan class="g">V</tspan><tspan class="r">DE</tspan><tspan class="d">---------------</tspan><tspan class="n">N</tspan><tspan class="b">K</tspan><tspan class="t">T</tspan><tspan class="s">S</tspan><tspan class="k">*</tspan><tspan class="d">---------</tspan></text></g>
<g id="Htia3-7"><text class="lab" x="25" y="1495">Htia3-7<tspan class="cnt" dx="4">(1)</tspan></text>
<text class="seq" x="363.5" y="1495"><tspan class="g">M</tspan><tspan class="f">F</tspan><tspan class="p">P</tspan><tspan class="g">V</tspan><tspan class="b">K</tspan><tspan class="g">M</tspan><tspan class="f">F</tspan><tspan class="g">VV</tspan><tspan class="f">F</tspan><tspan class="g">L</tspan><tspan class="t">T</tspan><tspan class="g">V</tspan><tspan class="c">C</tspan><tspan class="g">I</tspan><tspan class="s">S</tspan><tspan class="g">V</tspan><tspan class="s">S</tspan><tspan class="q">Q</tspan><tspan class="a">A</tspan><tspan class="g">I</tspan><tspan class="s">SS</tspan><tspan class="h">H</tspan><tspan class="a">Y</tspan><tspan class="g">V</tspan><tspan class="f">F</tspan><tspan class="r">E</tspan><tspan class="h">H</tspan><tspan class="c">C</tspan><tspan class="s">SS</tspan><tspan class="t">T</tspan><tspan class="g">L</tspan><tspan class="q">Q</tspan><tspan class="b">R</tspan><tspan class="n">N</tspan><tspan class="c">C</tspan><tspan class="f">F</tspan><tspan class="c">C</tspan><tspan class="n">N</tspan><tspan class="o">G</tspan><tspan class="b">K</tspan><tspan class="h">H</tspan><tspan class="a">Y</tspan><tspan class="c">C</tspan><tspan class="o">G</tspan><tspan class="t">T</tspan><tspan class="o">G</tspan><tspan class="t">T</tspan><tspan class="b">K</tspan><tspan class="c">C</tspan><tspan class="g">M</tspan><tspan class="s">S</tspan><tspan class="a">Y</tspan><tspan class="b">K</tspan><tspan class="d">-</tspan><tspan class="o">G</tspan><tspan class="g">I</tspan><tspan class="t">T</tspan><tspan class="d">--</tspan><tspan class="q">Q</tspan><tspan class="c">C</tspan><tspan class="g">V</tspan><tspan class="r">DE</tspan><tspan class="d">---------------</tspan><tspan class="s">S</tspan><tspan class="b">K</tspan><tspan class="t">T</tspan><tspan class="s">S</tspan><tspan class="k">*</tspan><tspan class="d">---------</tspan></text></g>
<g id="regions">
<text class="reg" x="434" y="1584">signal peptide</text>
<text class="reg" x="977" y="1584">N-terminal</text>
<text class="reg" x="1489" y="1584">central globular domain</text>
<text class="reg" x="2689" y="1584">C-terminal</text>
</g>
</svg>
